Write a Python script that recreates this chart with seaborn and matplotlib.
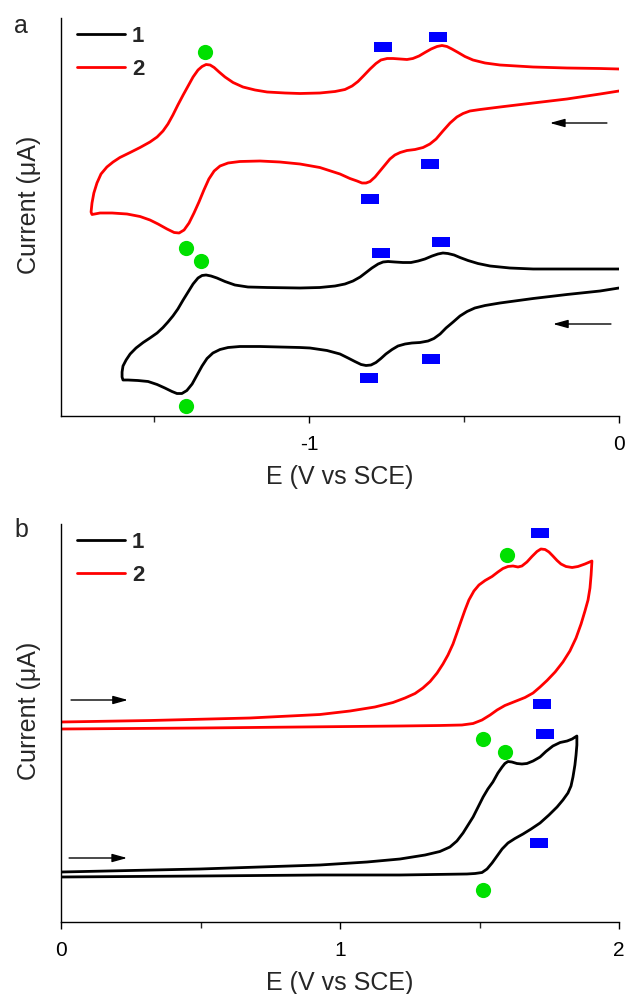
import numpy as np
import pandas as pd
import matplotlib
matplotlib.use("Agg")
import matplotlib.pyplot as plt
import seaborn as sns
from matplotlib.ticker import MultipleLocator, FuncFormatter

# ---------------- data (E in V vs SCE, current in arbitrary units) ----------------
# Panel a, compound 2 (red)
a2_E = [0.000, -0.061, -0.168, -0.277, -0.384, -0.448, -0.481, -0.503, -0.523, -0.545,
        -0.568, -0.590, -0.610, -0.632, -0.658, -0.684, -0.706, -0.723, -0.739, -0.755,
        -0.771, -0.787, -0.803, -0.816, -0.829, -0.845, -0.868, -0.900, -0.965, -1.029,
        -1.094, -1.158, -1.223, -1.261, -1.287, -1.306, -1.323, -1.339, -1.355, -1.371,
        -1.387, -1.403, -1.419, -1.435, -1.458, -1.487, -1.513, -1.545, -1.587, -1.635,
        -1.674, -1.700,
        -1.703, -1.700, -1.694, -1.684, -1.671, -1.652, -1.632, -1.610, -1.577, -1.545,
        -1.513, -1.490, -1.471, -1.455, -1.439, -1.423, -1.406, -1.390, -1.374, -1.358,
        -1.345, -1.332, -1.319, -1.306, -1.290, -1.271, -1.245, -1.213, -1.174, -1.135,
        -1.077, -1.029, -0.965, -0.916, -0.884, -0.861, -0.842, -0.823, -0.803, -0.784,
        -0.768, -0.748, -0.729, -0.706, -0.684, -0.665, -0.645, -0.626, -0.606, -0.587,
        -0.571, -0.555, -0.539, -0.519, -0.497, -0.471, -0.432, -0.384, -0.277, -0.168,
        -0.061, 0.000]
a2_I = [32.5, 32.2, 31.7, 31.3, 30.9, 30.65, 30.5, 30.25, 29.9, 29.3,
        28.5, 27.7, 27.2, 26.85, 26.65, 26.55, 26.35, 26.1, 25.7, 25.1,
        24.5, 23.9, 23.45, 23.3, 23.3, 23.5, 23.75, 24.2, 24.85, 25.2,
        25.4, 25.5, 25.45, 25.3, 25.0, 24.5, 23.7, 22.6, 21.4, 20.3,
        19.3, 18.6, 18.3, 18.35, 18.7, 19.2, 19.6, 19.95, 20.2, 20.3,
        20.3, 20.15,
        20.4, 21.3, 22.3, 23.3, 24.2, 24.9, 25.4, 25.85, 26.35, 26.85,
        27.4, 27.9, 28.5, 29.2, 30.1, 31.1, 32.1, 33.0, 33.9, 34.6,
        34.95, 35.15, 35.1, 34.85, 34.4, 33.9, 33.35, 32.9, 32.6, 32.4,
        32.3, 32.25, 32.3, 32.45, 32.65, 33.0, 33.45, 34.05, 34.7, 35.25,
        35.6, 35.75, 35.75, 35.7, 35.65, 35.75, 36.0, 36.35, 36.7, 36.95,
        37.05, 36.95, 36.7, 36.35, 35.95, 35.6, 35.3, 35.1, 34.9, 34.8,
        34.75, 34.7]

# Panel a, compound 1 (black)
a1_E = [0.000, -0.061, -0.168, -0.277, -0.384, -0.432, -0.465, -0.490, -0.513, -0.535,
        -0.558, -0.577, -0.597, -0.616, -0.642, -0.668, -0.690, -0.713, -0.732, -0.752,
        -0.768, -0.784, -0.800, -0.816, -0.832, -0.852, -0.874, -0.900, -0.942, -0.997,
        -1.029, -1.094, -1.158, -1.223, -1.261, -1.287, -1.310, -1.329, -1.345, -1.361,
        -1.377, -1.394, -1.410, -1.426, -1.442, -1.465, -1.490, -1.519, -1.552, -1.584,
        -1.600,
        -1.603, -1.603, -1.600, -1.590, -1.577, -1.558, -1.535, -1.513, -1.490, -1.471,
        -1.455, -1.439, -1.423, -1.406, -1.390, -1.374, -1.358, -1.345, -1.332, -1.316,
        -1.297, -1.271, -1.239, -1.197, -1.135, -1.029, -0.965, -0.916, -0.884, -0.858,
        -0.835, -0.816, -0.797, -0.777, -0.761, -0.745, -0.723, -0.697, -0.671, -0.648,
        -0.626, -0.603, -0.584, -0.568, -0.552, -0.532, -0.513, -0.487, -0.455, -0.416,
        -0.352, -0.277, -0.168, 0.000]
a1_I = [12.8, 12.5, 12.15, 11.75, 11.3, 11.05, 10.8, 10.45, 10.0, 9.4,
        8.8, 8.2, 7.75, 7.5, 7.35, 7.3, 7.2, 7.0, 6.65, 6.2,
        5.75, 5.35, 5.1, 5.05, 5.15, 5.45, 5.8, 6.2, 6.55, 6.8,
        6.85, 6.9, 6.95, 6.95, 6.85, 6.65, 6.3, 5.75, 5.0, 4.1,
        3.2, 2.55, 2.25, 2.25, 2.45, 2.8, 3.15, 3.45, 3.55, 3.6,
        3.6,
        3.9, 4.4, 5.0, 5.6, 6.2, 6.8, 7.35, 7.8, 8.3, 8.85,
        9.4, 10.0, 10.7, 11.6, 12.4, 13.2, 13.8, 14.05, 14.1, 14.0,
        13.8, 13.45, 13.1, 12.9, 12.85, 12.8, 12.85, 13.0, 13.2, 13.5,
        13.9, 14.35, 14.8, 15.2, 15.4, 15.45, 15.4, 15.35, 15.35, 15.5,
        15.7, 16.0, 16.2, 16.3, 16.25, 16.1, 15.85, 15.55, 15.25, 15.0,
        14.8, 14.7, 14.7, 14.7]

# Panel b, compound 2 (red)
b2_E = [0.000, 0.319, 0.677, 0.928, 1.036, 1.125, 1.190, 1.233, 1.269, 1.297,
        1.323, 1.348, 1.369, 1.387, 1.405, 1.419, 1.434, 1.448, 1.462, 1.480,
        1.498, 1.520, 1.545, 1.566, 1.584, 1.602, 1.620, 1.638, 1.652, 1.670,
        1.688, 1.706, 1.720, 1.735, 1.749, 1.763, 1.778, 1.792, 1.810, 1.832,
        1.853, 1.878, 1.903,
        1.900, 1.896, 1.889, 1.878, 1.864, 1.846, 1.824, 1.799, 1.771, 1.742,
        1.717, 1.692, 1.663, 1.627, 1.591, 1.563, 1.538, 1.509, 1.477, 1.437,
        1.358, 1.215, 0.857, 0.498, 0.000]
b2_I = [20.0, 20.15, 20.4, 20.75, 21.1, 21.5, 21.95, 22.4, 22.85, 23.4,
        24.05, 24.9, 25.8, 26.7, 27.8, 28.9, 30.1, 31.2, 32.2, 33.1,
        33.7, 34.15, 34.55, 35.0, 35.35, 35.55, 35.6, 35.5, 35.6, 36.0,
        36.55, 37.05, 37.3, 37.25, 37.0, 36.6, 36.15, 35.8, 35.55, 35.45,
        35.55, 35.8, 36.1,
        34.7, 33.4, 32.2, 31.1, 29.8, 28.4, 27.1, 26.0, 25.0, 24.15,
        23.5, 22.9, 22.45, 22.05, 21.65, 21.2, 20.7, 20.2, 19.85, 19.7,
        19.65, 19.6, 19.5, 19.4, 19.3]

# Panel b, compound 1 (black)
b1_E = [0.000, 0.498, 0.928, 1.097, 1.215, 1.305, 1.358, 1.394, 1.419, 1.441,
        1.459, 1.477, 1.495, 1.513, 1.530, 1.548, 1.566, 1.581, 1.591, 1.602,
        1.616, 1.634, 1.652, 1.670, 1.692, 1.717, 1.738, 1.763, 1.789, 1.814,
        1.832, 1.849,
        1.849, 1.846, 1.842, 1.835, 1.828, 1.817, 1.799, 1.778, 1.749, 1.717,
        1.685, 1.656, 1.627, 1.602, 1.581, 1.563, 1.545, 1.527, 1.509, 1.484,
        1.455, 1.215, 0.928, 0.498, 0.000]
b1_I = [5.0, 5.3, 5.7, 6.0, 6.3, 6.7, 7.05, 7.5, 8.1, 8.9,
        9.7, 10.5, 11.5, 12.5, 13.3, 14.0, 14.9, 15.5, 15.85, 16.05,
        16.0, 15.85, 15.8, 15.85, 16.1, 16.5, 17.05, 17.6, 17.95, 18.1,
        18.3, 18.6,
        17.7, 16.7, 15.7, 14.5, 13.6, 12.9, 12.2, 11.5, 10.7, 9.9,
        9.3, 8.8, 8.35, 7.9, 7.3, 6.6, 5.9, 5.3, 4.95, 4.85,
        4.8, 4.7, 4.7, 4.6, 4.5]

# Peak markers
a_green_E = [-1.335, -1.397, -1.348, -1.397]
a_green_I = [36.4, 16.8, 15.5, 1.0]
a_blue_E = [-0.761, -0.584, -0.610, -0.803, -0.768, -0.574, -0.606, -0.806]
a_blue_I = [36.9, 37.9, 25.2, 21.7, 16.3, 17.4, 5.7, 3.8]
b_green_E = [1.599, 1.513, 1.591, 1.513]
b_green_I = [36.7, 18.3, 17.0, 3.2]
b_blue_E = [1.717, 1.724, 1.735, 1.713]
b_blue_I = [38.9, 21.8, 18.8, 7.9]

labels = ["1", "2"]
colors = {"1": "#000000", "2": "#FF0000"}

# ---------------- style ----------------
sns.set_style("ticks")
plt.rcParams['font.family'] = ['Liberation Sans', 'DejaVu Sans']
plt.rcParams['axes.unicode_minus'] = False
plt.rcParams['lines.solid_joinstyle'] = 'round'
plt.rcParams['lines.solid_capstyle'] = 'round'

fig = plt.figure(figsize=(6.26, 9.94), dpi=100)
W, H = 626, 994
axa = fig.add_axes([61 / W, 1 - 416 / H, 558 / W, 398 / H])
axb = fig.add_axes([61 / W, 1 - 922 / H, 558 / W, 398 / H])

rect = [(-1, -0.62), (1, -0.62), (1, 0.62), (-1, 0.62), (-1, -0.62)]


def draw(ax, E1, I1, E2, I2, gE, gI, bE, bI, xlim, arrows):
    d1 = pd.DataFrame({"E": E1, "I": I1})
    d2 = pd.DataFrame({"E": E2, "I": I2})
    sns.lineplot(data=d1, x="E", y="I", sort=False, estimator=None, ax=ax,
                 color=colors["1"], lw=2.0, label=labels[0])
    sns.lineplot(data=d2, x="E", y="I", sort=False, estimator=None, ax=ax,
                 color=colors["2"], lw=2.0, label=labels[1])
    sns.scatterplot(x=gE, y=gI, ax=ax, color="#00E000", s=120, marker="o",
                    linewidth=0, legend=False)
    sns.scatterplot(x=bE, y=bI, ax=ax, color="#0000FF", s=150, marker=rect,
                    linewidth=0, legend=False)
    for (x0, x1, y) in arrows:
        ax.annotate("", xy=(x1, y), xytext=(x0, y),
                    arrowprops=dict(arrowstyle="-|>,head_length=0.9,head_width=0.25",
                                    color="black", lw=1.0, shrinkA=0, shrinkB=0))
    ax.set_xlim(*xlim)
    ax.set_ylim(0, 39.8)
    ax.set_yticks([])
    ax.xaxis.set_major_locator(MultipleLocator(1))
    ax.xaxis.set_minor_locator(MultipleLocator(0.5))
    ax.xaxis.set_major_formatter(FuncFormatter(lambda v, p: "%d" % round(v)))
    ax.tick_params(axis="x", which="major", length=5, width=1, direction="out",
                   labelsize=15, pad=8.5, colors="black")
    ax.tick_params(axis="x", which="minor", length=4, width=1, direction="out")
    for s in ["top", "right"]:
        ax.spines[s].set_visible(False)
    for s in ["left", "bottom"]:
        ax.spines[s].set_color("black")
        ax.spines[s].set_linewidth(1.0)
    ax.set_xlabel("E (V vs SCE)", fontsize=18, labelpad=8)
    ax.set_ylabel("Current (\u03bcA)", fontsize=18)
    ax.yaxis.set_label_coords(-0.035, 0.53)
    leg = ax.legend(loc="upper left", bbox_to_anchor=(0.0, 1.02), frameon=False,
                    handlelength=2.2, handletextpad=0.3, labelspacing=0.55,
                    borderaxespad=0.3, prop={"weight": "bold", "size": 16})
    for h in leg.get_lines():
        h.set_linewidth(2.0)


draw(axa, a1_E, a1_I, a2_E, a2_I, a_green_E, a_green_I, a_blue_E, a_blue_I,
     (-1.8, 0.0), [(-0.039, -0.223, 29.3), (-0.026, -0.213, 9.2)])
draw(axb, b1_E, b1_I, b2_E, b2_I, b_green_E, b_green_I, b_blue_E, b_blue_I,
     (0.0, 2.0), [(0.036, 0.240, 22.2), (0.029, 0.237, 6.4)])

fig.text(14 / W, 1 - 33 / H, "a", fontsize=18, va="baseline", ha="left")
fig.text(14 / W, 1 - 537 / H, "b", fontsize=18, va="baseline", ha="left")

fig.savefig("out.png", dpi=100, facecolor="white")
